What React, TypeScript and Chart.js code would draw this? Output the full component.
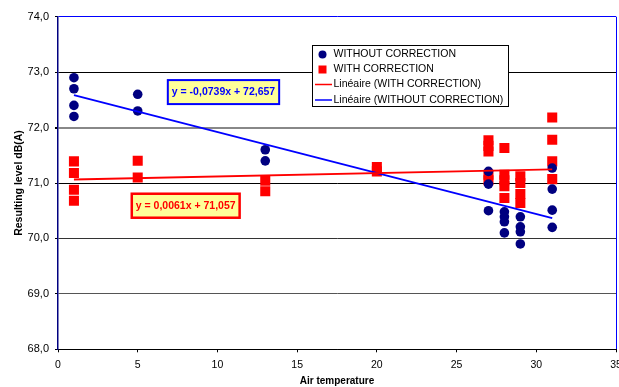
import React, { useEffect, useRef } from 'react';
import { Chart, registerables } from 'chart.js';

Chart.register(...registerables);

// ---- data ----
const withoutX = [1, 1, 1, 1, 5, 5, 13, 13, 27, 27, 27, 28, 28, 28, 28, 29, 29, 29, 29, 31, 31, 31, 31];
const withoutY = [72.9, 72.7, 72.4, 72.2, 72.6, 72.3, 71.6, 71.4, 71.21, 70.98, 70.5, 70.48, 70.39, 70.3, 70.1, 70.39, 70.21, 70.12, 69.9, 71.27, 70.89, 70.51, 70.2];
const withX = [1, 1, 1, 1, 5, 5, 13, 13, 20, 20, 27, 27, 27, 27, 27, 28, 28, 28, 28, 28, 29, 29, 29, 29, 31, 31, 31, 31];
const withY = [71.39, 71.18, 70.88, 70.68, 71.4, 71.1, 71.04, 70.85, 71.29, 71.21, 71.77, 71.67, 71.57, 71.15, 71.05, 71.63, 71.15, 71.05, 70.94, 70.73, 71.12, 71.0, 70.8, 70.64, 72.18, 71.78, 71.39, 71.07];

// trend-line coefficients as printed on the chart: [slope, intercept]
const trendWithout = [-0.0739, 72.657];
const trendWith = [0.0061, 71.057];
const trendRange = [1, 31];

const xTicks = [0, 5, 10, 15, 20, 25, 30, 35];
const yTicks = [68, 69, 70, 71, 72, 73, 74];

const labelWithout = 'WITHOUT CORRECTION';
const labelWith = 'WITH CORRECTION';
const labelTrendWith = 'Linéaire (WITH CORRECTION)';
const labelTrendWithout = 'Linéaire (WITHOUT CORRECTION)';
const eqWithout = 'y = -0,0739x + 72,657';
const eqWith = 'y = 0,0061x + 71,057';

// label anchors (data units)
const eqWithoutPos = [10.38, 72.64];
const eqWithPos = [8.01, 70.59];

const FONT = '"Liberation Sans", Arial, sans-serif';
const NAVY = '#000080';
const BLUE = '#0000FF';
const RED = '#FF0000';

function toPoints(xs: number[], ys: number[]) {
  return xs.map((x, i) => ({ x, y: ys[i] }));
}
function trendPoints(c: number[]) {
  return trendRange.map((x) => ({ x, y: c[0] * x + c[1] }));
}

const overlayPlugin = {
  id: 'overlay',
  afterDraw(chart: any) {
    const ctx = chart.ctx;
    const xs = chart.scales.x;
    const ys = chart.scales.y;
    ctx.save();
    // equation boxes
    const drawEq = (text: string, pos: number[], color: string, bw: number) => {
      ctx.font = `bold 10.5px ${FONT}`;
      const w = ctx.measureText(text).width + 8;
      const h = 24;
      const cx = xs.getPixelForValue(pos[0]);
      const cy = ys.getPixelForValue(pos[1]);
      ctx.fillStyle = '#FFFF99';
      ctx.fillRect(cx - w / 2, cy - h / 2, w, h);
      ctx.strokeStyle = color;
      ctx.lineWidth = bw;
      ctx.strokeRect(cx - w / 2, cy - h / 2, w, h);
      ctx.fillStyle = color;
      ctx.textAlign = 'center';
      ctx.textBaseline = 'middle';
      ctx.fillText(text, cx, cy + 0.5);
    };
    drawEq(eqWithout, eqWithoutPos, BLUE, 2);
    drawEq(eqWith, eqWithPos, RED, 2.5);

    // legend
    const lx = 312, ly = 45, lw = 196, lh = 61;
    ctx.fillStyle = '#fff';
    ctx.fillRect(lx, ly, lw, lh);
    ctx.strokeStyle = '#000';
    ctx.lineWidth = 1;
    ctx.strokeRect(lx + 0.5, ly + 0.5, lw, lh);
    ctx.font = `10.5px ${FONT}`;
    ctx.textAlign = 'left';
    ctx.textBaseline = 'middle';
    const tx = lx + 21.5;
    const rows = [ly + 9.5, ly + 24.5, ly + 39.5, ly + 55];
    // row 1: circle
    ctx.fillStyle = NAVY;
    ctx.beginPath();
    ctx.arc(lx + 10.5, rows[0], 4, 0, Math.PI * 2);
    ctx.fill();
    ctx.fillStyle = '#000';
    ctx.fillText(labelWithout, tx, rows[0]);
    // row 2: square
    ctx.fillStyle = RED;
    ctx.fillRect(lx + 6.5, rows[1] - 4, 8, 8);
    ctx.fillStyle = '#000';
    ctx.fillText(labelWith, tx, rows[1]);
    // row 3: red line
    ctx.strokeStyle = RED;
    ctx.lineWidth = 1.5;
    ctx.beginPath();
    ctx.moveTo(lx + 3, rows[2]);
    ctx.lineTo(lx + 20, rows[2]);
    ctx.stroke();
    ctx.fillStyle = '#000';
    ctx.fillText(labelTrendWith, tx, rows[2]);
    // row 4: blue line
    ctx.strokeStyle = BLUE;
    ctx.beginPath();
    ctx.moveTo(lx + 3, rows[3]);
    ctx.lineTo(lx + 20, rows[3]);
    ctx.stroke();
    ctx.fillStyle = '#000';
    ctx.fillText(labelTrendWithout, tx, rows[3]);
    ctx.restore();
  },
};

const gridColorY = (v: number) => {
  if (v === 74) return BLUE;
  if (v === 72) return '#888888';
  if (v === 70) return '#333333';
  if (v === 69) return '#555555';
  return '#000000';
};

export default function App() {
  const ref = useRef<HTMLCanvasElement | null>(null);
  useEffect(() => {
    if (!ref.current) return;
    Chart.defaults.font.family = FONT;
    Chart.defaults.color = '#000';
    const chart = new Chart(ref.current, {
      type: 'scatter',
      data: {
        datasets: [
          {
            label: labelTrendWith,
            data: trendPoints(trendWith),
            type: 'line',
            showLine: true,
            borderColor: RED,
            borderWidth: 1.8,
            pointRadius: 0,
            fill: false,
            order: 0,
          } as any,
          {
            label: labelTrendWithout,
            data: trendPoints(trendWithout),
            type: 'line',
            showLine: true,
            borderColor: BLUE,
            borderWidth: 1.8,
            pointRadius: 0,
            fill: false,
            order: 0,
          } as any,
          {
            label: labelWithout,
            data: toPoints(withoutX, withoutY),
            backgroundColor: NAVY,
            borderColor: NAVY,
            borderWidth: 0,
            pointStyle: 'circle',
            pointRadius: 4.8,
            order: 1,
          },
          {
            label: labelWith,
            data: toPoints(withX, withY),
            backgroundColor: RED,
            borderColor: RED,
            borderWidth: 0,
            pointStyle: 'rect',
            pointRadius: 7.1,
            order: 2,
          },
        ],
      },
      options: {
        animation: false,
        responsive: false,
        devicePixelRatio: 1,
        layout: { padding: { top: 16.7, right: 24, left: 0, bottom: 0 } },
        plugins: { legend: { display: false }, tooltip: { enabled: false } },
        scales: {
          x: {
            type: 'linear',
            min: 0,
            max: 35,
            afterBuildTicks: (s: any) => {
              s.ticks = xTicks.map((v) => ({ value: v }));
            },
            afterFit: (s: any) => {
              s.height = 37.7;
            },
            ticks: { font: { size: 10.5 }, padding: 7, color: '#000', maxRotation: 0 },
            grid: {
              color: (c: any) => (c.tick && c.tick.value === 35 ? BLUE : 'rgba(0,0,0,0)'),
              lineWidth: 1,
              tickColor: '#000',
              tickLength: 3,
            },
            border: { color: '#000', width: 1 },
            title: {
              display: true,
              text: 'Air temperature',
              font: { size: 10, weight: 'bold' },
              padding: { top: 0, bottom: 0 },
              color: '#000',
            },
          },
          y: {
            type: 'linear',
            min: 68,
            max: 74,
            afterBuildTicks: (s: any) => {
              s.ticks = yTicks.map((v) => ({ value: v }));
            },
            afterFit: (s: any) => {
              s.width = 58;
            },
            ticks: {
              font: { size: 11 },
              padding: 6,
              color: '#000',
              callback: (v: any) => Number(v).toFixed(1).replace('.', ','),
            },
            grid: {
              color: (c: any) => gridColorY(c.tick ? c.tick.value : 0),
              lineWidth: (c: any) => (c.tick && c.tick.value === 72 ? 2 : 1),
              tickColor: '#000',
              tickLength: 3,
            },
            border: { color: NAVY, width: 1.5 },
            title: {
              display: true,
              text: 'Resulting level dB(A)',
              font: { size: 10.5, weight: 'bold' },
              padding: { top: 13, bottom: 0 },
              color: '#000',
            },
          },
        },
      },
      plugins: [overlayPlugin],
    });
    return () => chart.destroy();
  }, []);
  return (
    <div style={{ position: 'fixed', left: 0, top: 0, width: 619, height: 387, overflow: 'hidden', background: '#fff' }}>
      <canvas ref={ref} width={640} height={387} style={{ display: 'block', width: 640, height: 387 }} />
    </div>
  );
}
